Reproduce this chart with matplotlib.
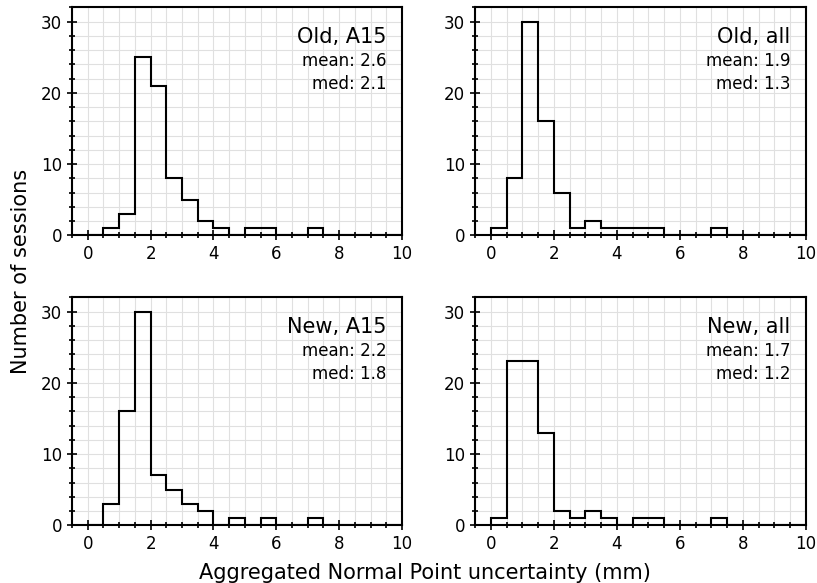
import matplotlib.pyplot as plt
import numpy as np
from matplotlib.ticker import MultipleLocator

edges = np.arange(0, 10.5, 0.5)

old_a15 = [0, 1, 3, 25, 21, 8, 5, 2, 1, 0, 1, 1, 0, 0, 1, 0, 0, 0, 0, 0]
old_all = [1, 8, 30, 16, 6, 1, 2, 1, 1, 1, 1, 0, 0, 0, 1, 0, 0, 0, 0, 0]
new_a15 = [0, 3, 16, 30, 7, 5, 3, 2, 0, 1, 0, 1, 0, 0, 1, 0, 0, 0, 0, 0]
new_all = [1, 23, 23, 13, 2, 1, 2, 1, 0, 1, 1, 0, 0, 0, 1, 0, 0, 0, 0, 0]

titles = ['Old, A15', 'Old, all', 'New, A15', 'New, all']
means = ['2.6', '1.9', '2.2', '1.7']
meds = ['2.1', '1.3', '1.8', '1.2']
counts = [old_a15, old_all, new_a15, new_all]

fig = plt.figure(figsize=(8.17, 5.83), dpi=100)
W, H = 817, 583
boxes = [(72, 7.3, 402, 235.3), (475, 7.3, 806, 235.3),
         (72, 297.3, 402, 525.3), (475, 297.3, 806, 525.3)]

for i, (x0, y0, x1, y1) in enumerate(boxes):
    ax = fig.add_axes([x0 / W, 1 - y1 / H, (x1 - x0) / W, (y1 - y0) / H])
    ax.stairs(counts[i], edges, color='k', linewidth=1.5, zorder=3)
    ax.set_xlim(-0.5, 10)
    ax.set_ylim(0, 32)
    ax.xaxis.set_major_locator(MultipleLocator(2))
    ax.xaxis.set_minor_locator(MultipleLocator(0.5))
    ax.yaxis.set_major_locator(MultipleLocator(10))
    ax.yaxis.set_minor_locator(MultipleLocator(2))
    ax.grid(which='both', color='#e0e0e0', linewidth=0.8, zorder=0)
    ax.set_axisbelow(True)
    ax.tick_params(which='major', direction='inout', length=7, width=1.2,
                   labelsize=12)
    ax.tick_params(which='minor', direction='inout', length=4, width=1.2)
    for s in ax.spines.values():
        s.set_linewidth(1.5)
    ax.text(0.952, 0.912, titles[i], transform=ax.transAxes, ha='right',
            va='top', fontsize=15)
    ax.text(0.952, 0.802, 'mean: ' + means[i] + '\nmed: ' + meds[i],
            transform=ax.transAxes, ha='right', va='top', fontsize=12,
            linespacing=1.35)

fig.text(0.52, 0.0, 'Aggregated Normal Point uncertainty (mm)', ha='center',
         va='bottom', fontsize=15)
fig.text(0.014, 0.535, 'Number of sessions', rotation=90, ha='left',
         va='center', fontsize=15)

fig.savefig('out.png', dpi=100)
